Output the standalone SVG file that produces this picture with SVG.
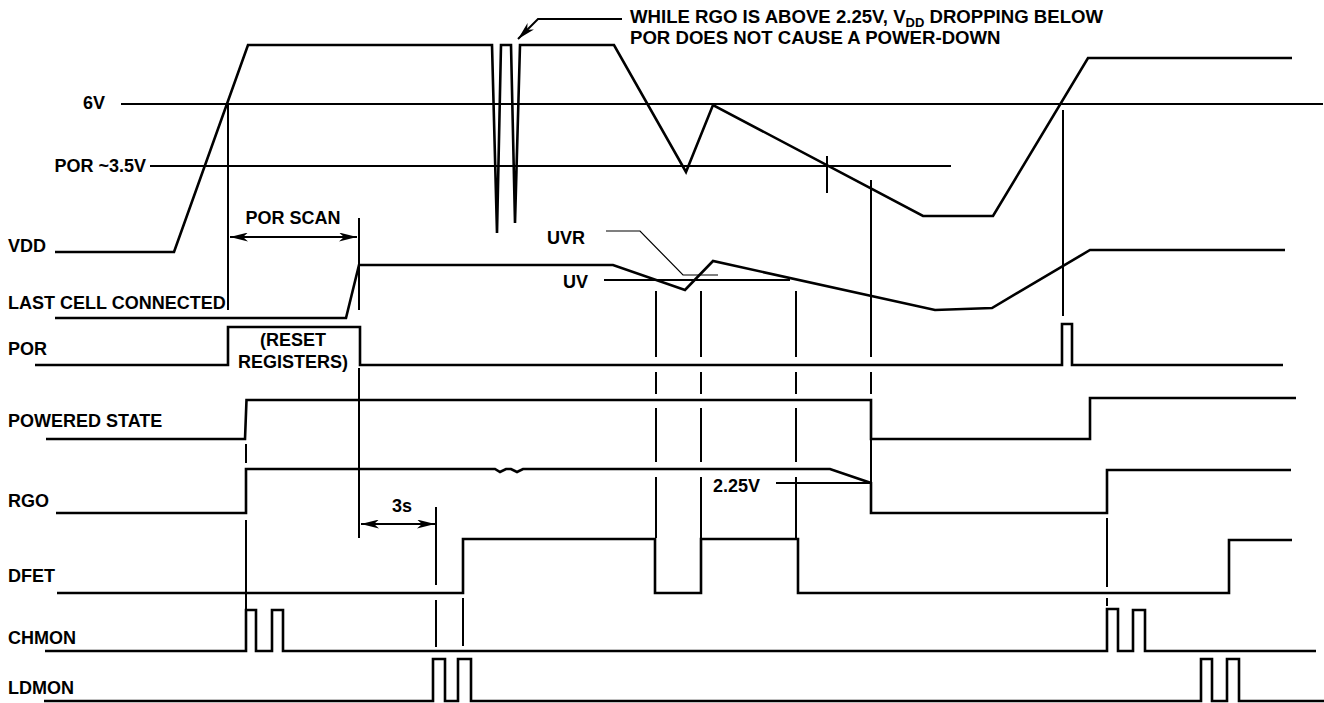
<svg xmlns="http://www.w3.org/2000/svg" width="1324" height="703" viewBox="0 0 1324 703">
<style>
text{font-family:"Liberation Sans",Arial,Helvetica,sans-serif;font-weight:bold;font-size:18px;fill:#000}
.note{font-size:18.6px}
.sig{fill:none;stroke:#000;stroke-width:2.6;stroke-linejoin:miter}
.ref{fill:none;stroke:#000;stroke-width:2}
.thin{fill:none;stroke:#000;stroke-width:1.2}
.mark{fill:none;stroke:#000;stroke-width:2}
</style>
<defs>
<marker id="ah" viewBox="0 0 18 9" refX="18" refY="4.5" markerWidth="18" markerHeight="9" markerUnits="userSpaceOnUse" orient="auto-start-reverse">
<path d="M0,0 L18,4.5 L0,9 L5,4.5 z" fill="#000"/>
</marker>
</defs>
<rect width="1324" height="703" fill="#fff"/>

<g id="labels">
<text x="105" y="109" text-anchor="end">6V</text>
<text x="146" y="172" text-anchor="end">POR ~3.5V</text>
<text x="8" y="252">VDD</text>
<text x="8" y="309">LAST CELL CONNECTED</text>
<text x="8" y="355">POR</text>
<text x="8" y="427">POWERED STATE</text>
<text x="8" y="507">RGO</text>
<text x="8" y="582">DFET</text>
<text x="8" y="644">CHMON</text>
<text x="8" y="694">LDMON</text>
</g>

<g id="reference-levels">
<path class="ref" d="M121,104 H1323"/>
<path class="ref" d="M150,166 H951"/>
<path class="ref" d="M604,280 H790"/>
<path class="thin" d="M606,231 H640 L683,275 H718"/>
<text x="547" y="244">UVR</text>
<text x="563" y="288">UV</text>
<path class="ref" d="M776,483 H871"/>
<text x="713" y="492">2.25V</text>
</g>

<g id="annotation">
<path class="ref" d="M622,19 H538 L518,39" marker-end="url(#ah)"/>
<text class="note" x="630" y="22.5">WHILE RGO IS ABOVE 2.25V, V<tspan font-size="13px" dy="4">DD</tspan><tspan dy="-4"> DROPPING BELOW</tspan></text>
<text class="note" x="630" y="44">POR DOES NOT CAUSE A POWER-DOWN</text>
</g>

<g id="timing-markers">
<path class="mark" d="M228,104 V310"/>
<path class="mark" d="M359,218 V310 M359,368 V538"/>
<path class="mark" d="M230,237 H357" marker-start="url(#ah)" marker-end="url(#ah)"/>
<text x="293" y="224" text-anchor="middle">POR SCAN</text>
<text x="293" y="346" text-anchor="middle">(RESET</text>
<text x="293" y="368" text-anchor="middle">REGISTERS)</text>
<path class="mark" d="M246,444 V463 M246,520 V651"/>
<path class="mark" d="M436,507 V585 M436,600 V647"/>
<path class="mark" d="M361,524 H435" marker-start="url(#ah)" marker-end="url(#ah)"/>
<text x="402" y="512" text-anchor="middle">3s</text>
<path class="mark" d="M463,598 V646"/>
<path class="mark" d="M656,291 V357 M656,372 V394 M656,408 V462 M656,477 V538"/>
<path class="mark" d="M701,291 V357 M701,372 V394 M701,408 V462 M701,477 V538"/>
<path class="mark" d="M796,291 V357 M796,372 V394 M796,408 V462 M796,477 V538"/>
<path class="mark" d="M871,180 V357 M871,372 V394 M871,400 V513"/>
<path class="mark" d="M827,156 V193"/>
<path class="mark" d="M1063,110 V316"/>
<path class="mark" d="M1107,518 V587 M1107,598 V606"/>
</g>

<g id="signal-vdd">
<path class="sig" d="M55,252 H174 L248,45 H492 L497,233 L501,45 H511 L515,223 L520,45 H614 L686,172 L713,105 L923,216 H993 L1088,58 H1292"/>
</g>
<g id="signal-last-cell">
<path class="sig" d="M55,318 H346 L359,265 H613 L685,290 L713,261 L935,310 L992,308 L1090,250 H1285"/>
</g>
<g id="signal-por">
<path class="sig" d="M35,365 H228 V327 H360 V365 H1062 V324 H1072 V365 H1283"/>
</g>
<g id="signal-powered-state">
<path class="sig" d="M46,439 H245 L246.5,400 H871 V439 H1090 V398 H1296"/>
</g>
<g id="signal-rgo">
<path class="sig" d="M56,513 H246 V469 H495 L500,472 L506,469 L511,469 L517,472 L523,469 H830 L871,483 V513 H1107 V470 H1291"/>
</g>
<g id="signal-dfet">
<path class="sig" d="M57,593 H463 V539 H655 V593 H701 V539 H798 V593 H1229 V540 H1292"/>
</g>
<g id="signal-chmon">
<path class="sig" d="M45,651 H246 V610 H256 V651 H272 V610 H283 V651 H1107 V609 H1118 V651 H1133 V610 H1145 V651 H1316"/>
</g>
<g id="signal-ldmon">
<path class="sig" d="M44,701 H433 V659 H445 V701 H458 V659 H471 V701 H1201 V659 H1212 V701 H1227 V659 H1239 V701 H1324"/>
</g>
</svg>
